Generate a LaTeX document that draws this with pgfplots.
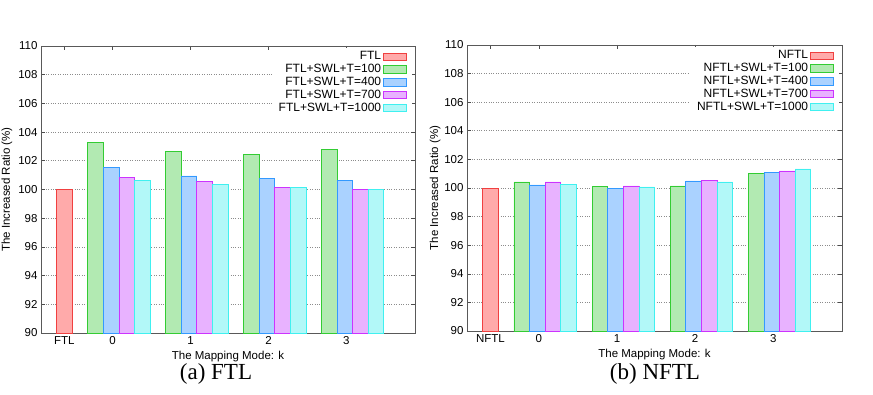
\documentclass[border=0pt]{standalone}
\usepackage{pgfplots}
\pgfplotsset{compat=1.18}
\usepackage{fontspec}
\setmainfont{Liberation Sans}
\newfontfamily\capfont{Liberation Serif}
\definecolor{rfill}{HTML}{FFAAAA}
\definecolor{rdraw}{HTML}{F04040}
\definecolor{gfill}{HTML}{B2EAB2}
\definecolor{gdraw}{HTML}{33CC33}
\definecolor{bfill}{HTML}{AAD2FF}
\definecolor{bdraw}{HTML}{3399FF}
\definecolor{mfill}{HTML}{E8B2FF}
\definecolor{mdraw}{HTML}{CC33FF}
\definecolor{cfill}{HTML}{B2F8F8}
\definecolor{cdraw}{HTML}{40F0F0}
\pgfplotsset{
  boxlegend/.style={legend image code/.code={\draw[##1] (0pt,-3.6pt) rectangle (23pt,3.6pt);}},
  mybar/.style={ybar, bar width=0.2, bar shift=0pt, line width=0.7pt, boxlegend},
  myaxis/.style={
    scale only axis, width=374pt, height=287pt,
    xmin=-1, xmax=3.8, ymin=90, ymax=110,
    ytick={90,92,...,110},
    xtick={-0.7,-0.08,0.92,1.92,2.92},
    tick align=inside, major tick length=4pt,
    tick style={black!70, line width=0.6pt},
    ymajorgrids,
    grid style={black!45, dotted, line width=0.6pt},
    axis line style={black!65, line width=0.8pt},
    /pgf/number format/assume math mode=true,
    tick label style={font=\fontsize{11.5}{13}\selectfont},
    label style={font=\fontsize{11.5}{13}\selectfont},
    ylabel={The Increased Ratio (\%)},
    xlabel={The Mapping Mode: k},
    xlabel style={at={(axis description cs:0.5,-0.082)}, anchor=center},
    legend plot pos=right,
    legend cell align=right,
    legend style={at={(1,1)}, anchor=north east, xshift=-3pt, yshift=-2pt,
      fill=white, draw=none, font=\fontsize{12}{13}\selectfont,
      row sep=0pt, inner xsep=5pt, inner ysep=2pt,
      nodes={inner ysep=1.5pt, inner xsep=2pt}},
  }
}
\begin{document}
\begin{tikzpicture}
\useasboundingbox (0,0) rectangle (873pt,394pt);
\begin{axis}[myaxis, at={(41pt,61pt)}, anchor=south west,
  xticklabels={FTL,0,1,2,3},
  ylabel style={at={(axis description cs:-0.091,0.5)}, anchor=center}]
\addplot[mybar, fill=rfill, draw=rdraw] coordinates {(-0.7,100)};
\addlegendentry{FTL}
\addplot[mybar, fill=gfill, draw=gdraw] coordinates {(-0.3,103.26) (0.7,102.64) (1.7,102.43) (2.7,102.82)};
\addlegendentry{FTL+SWL+T=100}
\addplot[mybar, fill=bfill, draw=bdraw] coordinates {(-0.1,101.55) (0.9,100.95) (1.9,100.76) (2.9,100.62)};
\addlegendentry{FTL+SWL+T=400}
\addplot[mybar, fill=mfill, draw=mdraw] coordinates {(0.1,100.83) (1.1,100.58) (2.1,100.16) (3.1,100.0)};
\addlegendentry{FTL+SWL+T=700}
\addplot[mybar, fill=cfill, draw=cdraw] coordinates {(0.3,100.65) (1.3,100.35) (2.3,100.16) (3.3,100.0)};
\addlegendentry{FTL+SWL+T=1000}
\end{axis}
\begin{axis}[myaxis, at={(467pt,63pt)}, anchor=south west, width=375pt, height=286pt,
  xticklabels={NFTL,0,1,2,3},
  ylabel style={at={(axis description cs:-0.085,0.5)}, anchor=center}]
\addplot[mybar, fill=rfill, draw=rdraw] coordinates {(-0.7,100)};
\addlegendentry{NFTL}
\addplot[mybar, fill=gfill, draw=gdraw] coordinates {(-0.3,100.42) (0.7,100.12) (1.7,100.14) (2.7,101.03)};
\addlegendentry{NFTL+SWL+T=100}
\addplot[mybar, fill=bfill, draw=bdraw] coordinates {(-0.1,100.21) (0.9,100.0) (1.9,100.49) (2.9,101.08)};
\addlegendentry{NFTL+SWL+T=400}
\addplot[mybar, fill=mfill, draw=mdraw] coordinates {(0.1,100.42) (1.1,100.14) (2.1,100.54) (3.1,101.19)};
\addlegendentry{NFTL+SWL+T=700}
\addplot[mybar, fill=cfill, draw=cdraw] coordinates {(0.3,100.23) (1.3,100.07) (2.3,100.42) (3.3,101.33)};
\addlegendentry{NFTL+SWL+T=1000}
\end{axis}
\node[font=\capfont\fontsize{23}{26}\selectfont] at (216pt,20pt) {(a) FTL};
\node[font=\capfont\fontsize{23}{26}\selectfont] at (655pt,20pt) {(b) NFTL};
\end{tikzpicture}
\end{document}
